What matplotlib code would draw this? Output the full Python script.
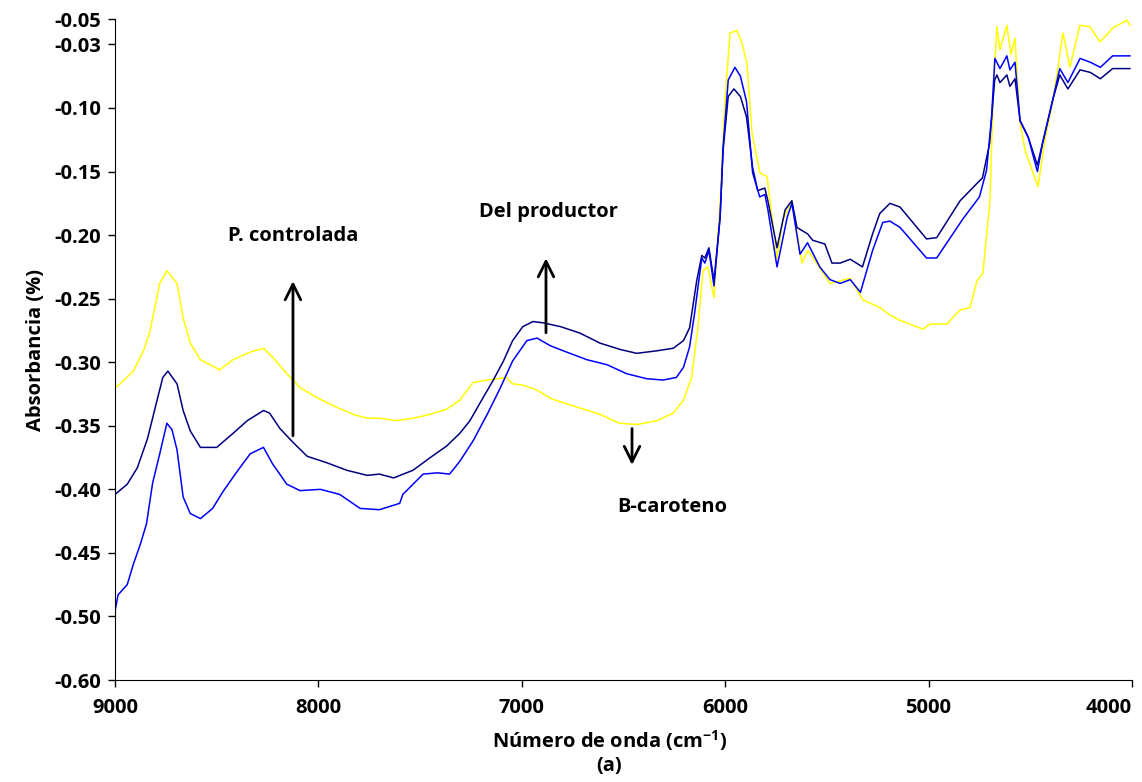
import matplotlib
matplotlib.use("Agg")
import matplotlib.pyplot as plt

plt.rcParams['font.family'] = ['Open Sans', 'DejaVu Sans']
plt.rcParams['font.weight'] = 'bold'
plt.rcParams['mathtext.default'] = 'regular'

# P. controlada (navy)
wn_navy = [9000, 8940, 8890, 8840, 8795, 8765, 8740, 8695, 8665, 8630, 8580, 8500, 8420, 8350,
           8270, 8240, 8190, 8125, 8055, 7960, 7860, 7760, 7700, 7630, 7535, 7450, 7370, 7305,
           7255, 7205, 7140, 7090, 7045, 6995, 6945, 6895, 6810, 6715, 6615, 6515, 6435, 6335,
           6255, 6205, 6175, 6140, 6115, 6100, 6080, 6055, 6025, 6010, 5985, 5957, 5925, 5895,
           5865, 5840, 5805, 5790, 5745, 5705, 5672, 5647, 5595, 5570, 5510, 5475, 5435, 5385,
           5325, 5275, 5240, 5190, 5140, 5010, 4960, 4845, 4760, 4735, 4700, 4675, 4664, 4649,
           4615, 4600, 4575, 4550, 4510, 4465, 4440, 4390, 4355, 4315, 4255, 4205, 4155, 4095, 4010]
abs_navy = [-0.404, -0.396, -0.383, -0.360, -0.331, -0.312, -0.307, -0.317, -0.338, -0.354, -0.367,
            -0.367, -0.356, -0.346, -0.338, -0.340, -0.352, -0.363, -0.374, -0.379, -0.385, -0.389,
            -0.388, -0.391, -0.385, -0.375, -0.366, -0.356, -0.346, -0.332, -0.314, -0.299, -0.283,
            -0.272, -0.268, -0.269, -0.272, -0.277, -0.285, -0.290, -0.293, -0.291, -0.289, -0.283,
            -0.273, -0.236, -0.216, -0.218, -0.210, -0.236, -0.186, -0.133, -0.091, -0.085, -0.091,
            -0.107, -0.147, -0.165, -0.163, -0.173, -0.210, -0.180, -0.173, -0.194, -0.199, -0.204,
            -0.207, -0.222, -0.222, -0.219, -0.225, -0.199, -0.183, -0.175, -0.178, -0.203, -0.202,
            -0.173, -0.159, -0.155, -0.128, -0.078, -0.074, -0.080, -0.074, -0.083, -0.077, -0.110,
            -0.123, -0.145, -0.128, -0.094, -0.074, -0.085, -0.070, -0.072, -0.077, -0.069, -0.069]

# Del productor (blue)
wn_blue = [9000, 8985, 8940, 8910, 8875, 8845, 8815, 8780, 8745, 8720, 8695, 8665, 8630, 8580,
           8520, 8470, 8400, 8335, 8270, 8225, 8155, 8090, 7990, 7895, 7795, 7700, 7600, 7585,
           7485, 7415, 7355, 7305, 7240, 7170, 7105, 7045, 6975, 6925, 6860, 6780, 6680, 6580,
           6485, 6385, 6305, 6240, 6205, 6175, 6150, 6115, 6100, 6080, 6055, 6025, 6010, 5985,
           5952, 5925, 5895, 5865, 5830, 5805, 5790, 5745, 5695, 5672, 5632, 5595, 5535, 5485,
           5435, 5385, 5335, 5275, 5225, 5190, 5140, 5010, 4960, 4830, 4750, 4715, 4690, 4674,
           4649, 4615, 4600, 4575, 4550, 4510, 4465, 4440, 4390, 4355, 4315, 4255, 4205, 4155,
           4095, 4010]
abs_blue = [-0.496, -0.483, -0.475, -0.459, -0.443, -0.427, -0.395, -0.372, -0.348, -0.353, -0.369,
            -0.406, -0.419, -0.423, -0.415, -0.402, -0.386, -0.372, -0.367, -0.380, -0.396, -0.401,
            -0.400, -0.404, -0.415, -0.416, -0.411, -0.404, -0.388, -0.387, -0.388, -0.378, -0.362,
            -0.341, -0.320, -0.299, -0.283, -0.281, -0.287, -0.292, -0.298, -0.302, -0.309, -0.313,
            -0.314, -0.312, -0.304, -0.288, -0.261, -0.218, -0.222, -0.212, -0.240, -0.186, -0.130,
            -0.078, -0.068, -0.075, -0.095, -0.151, -0.170, -0.168, -0.180, -0.225, -0.186, -0.175,
            -0.215, -0.206, -0.225, -0.235, -0.238, -0.235, -0.245, -0.212, -0.190, -0.189, -0.194,
            -0.218, -0.218, -0.187, -0.170, -0.149, -0.107, -0.061, -0.069, -0.059, -0.070, -0.064,
            -0.110, -0.123, -0.150, -0.128, -0.094, -0.069, -0.080, -0.061, -0.064, -0.068, -0.059,
            -0.059]

# B-caroteno (yellow)
wn_yel = [9000, 8975, 8910, 8860, 8830, 8780, 8745, 8695, 8665, 8630, 8580, 8485, 8420, 8335,
          8270, 8225, 8155, 8090, 8005, 7930, 7830, 7760, 7700, 7615, 7535, 7450, 7370, 7305,
          7240, 7170, 7120, 7075, 7045, 6995, 6925, 6850, 6715, 6615, 6520, 6435, 6335, 6255,
          6205, 6165, 6135, 6109, 6085, 6055, 6026, 6001, 5976, 5942, 5917, 5893, 5868, 5829,
          5794, 5745, 5716, 5672, 5622, 5593, 5559, 5485, 5436, 5386, 5323, 5239, 5190, 5141,
          5028, 4993, 4910, 4846, 4796, 4762, 4733, 4698, 4683, 4664, 4649, 4615, 4595, 4575,
          4551, 4526, 4462, 4428, 4388, 4339, 4305, 4256, 4207, 4157, 4093, 4025, 4010]
abs_yel = [-0.320, -0.317, -0.307, -0.291, -0.277, -0.238, -0.228, -0.238, -0.265, -0.285, -0.298,
           -0.306, -0.298, -0.292, -0.289, -0.296, -0.309, -0.320, -0.328, -0.334, -0.341, -0.344,
           -0.344, -0.346, -0.344, -0.341, -0.337, -0.330, -0.316, -0.314, -0.313, -0.312, -0.317,
           -0.318, -0.322, -0.329, -0.336, -0.341, -0.348, -0.349, -0.346, -0.340, -0.330, -0.312,
           -0.274, -0.228, -0.225, -0.249, -0.178, -0.094, -0.041, -0.039, -0.049, -0.065, -0.120,
           -0.151, -0.154, -0.218, -0.188, -0.173, -0.222, -0.212, -0.220, -0.238, -0.236, -0.234,
           -0.251, -0.257, -0.263, -0.267, -0.274, -0.270, -0.270, -0.259, -0.257, -0.236, -0.230,
           -0.173, -0.094, -0.036, -0.054, -0.035, -0.058, -0.045, -0.110, -0.133, -0.162, -0.125,
           -0.094, -0.041, -0.068, -0.035, -0.036, -0.048, -0.037, -0.031, -0.035]

ytick_pos = [-0.03, -0.05, -0.10, -0.15, -0.20, -0.25, -0.30, -0.35, -0.40, -0.45, -0.50, -0.55]
ytick_lab = ['-0.05', '-0.03', '-0.10', '-0.15', '-0.20', '-0.25', '-0.30', '-0.35', '-0.40',
             '-0.45', '-0.50', '-0.60']
xticks = [9000, 8000, 7000, 6000, 5000, 4000]

fs = 14.5

fig = plt.figure(figsize=(11.42, 7.82), dpi=100)
ax = fig.add_axes([0.1007, 0.1304, 0.8905, 0.8453])

ax.plot(wn_yel, abs_yel, color='#FFFF00', lw=1.1)
ax.plot(wn_navy, abs_navy, color='#000080', lw=1.1)
ax.plot(wn_blue, abs_blue, color='#0000FF', lw=1.1)

ax.set_xlim(9000, 4000)
ax.set_ylim(-0.55, -0.03)
ax.set_xticks(xticks)
ax.set_xticklabels([str(t) for t in xticks], fontsize=fs, fontweight='bold')
ax.get_xticklabels()[-1].set_horizontalalignment('right')
ax.set_yticks(ytick_pos)
ax.set_yticklabels(ytick_lab, fontsize=fs, fontweight='bold')
ax.tick_params(direction='out', length=5, width=1, pad=5)
ax.tick_params(axis='x', pad=8)
for s in ['top', 'right']:
    ax.spines[s].set_visible(False)

ax.set_ylabel('Absorbancia (%)', fontsize=fs, fontweight='bold', labelpad=6)
fig.text(0.534, 0.053, 'Número de onda (cm$^{-1}$)', ha='center', va='center',
         fontsize=fs, fontweight='bold')
fig.text(0.533, 0.020, '(a)', ha='center', va='center', fontsize=fs, fontweight='bold')

arrow = dict(arrowstyle='->', lw=2, color='black', mutation_scale=28)
ax.annotate('', xy=(8125, -0.234), xytext=(8125, -0.360), arrowprops=arrow)
ax.annotate('', xy=(6881, -0.216), xytext=(6881, -0.279), arrowprops=arrow)
ax.annotate('', xy=(6458, -0.383), xytext=(6458, -0.350), arrowprops=arrow)
ax.text(8125, -0.201, 'P. controlada', ha='center', va='center', fontsize=fs, fontweight='bold')
ax.text(6870, -0.182, 'Del productor', ha='center', va='center', fontsize=fs, fontweight='bold')
ax.text(6262, -0.414, 'B-caroteno', ha='center', va='center', fontsize=fs, fontweight='bold')

fig.savefig('out.png', dpi=100)
